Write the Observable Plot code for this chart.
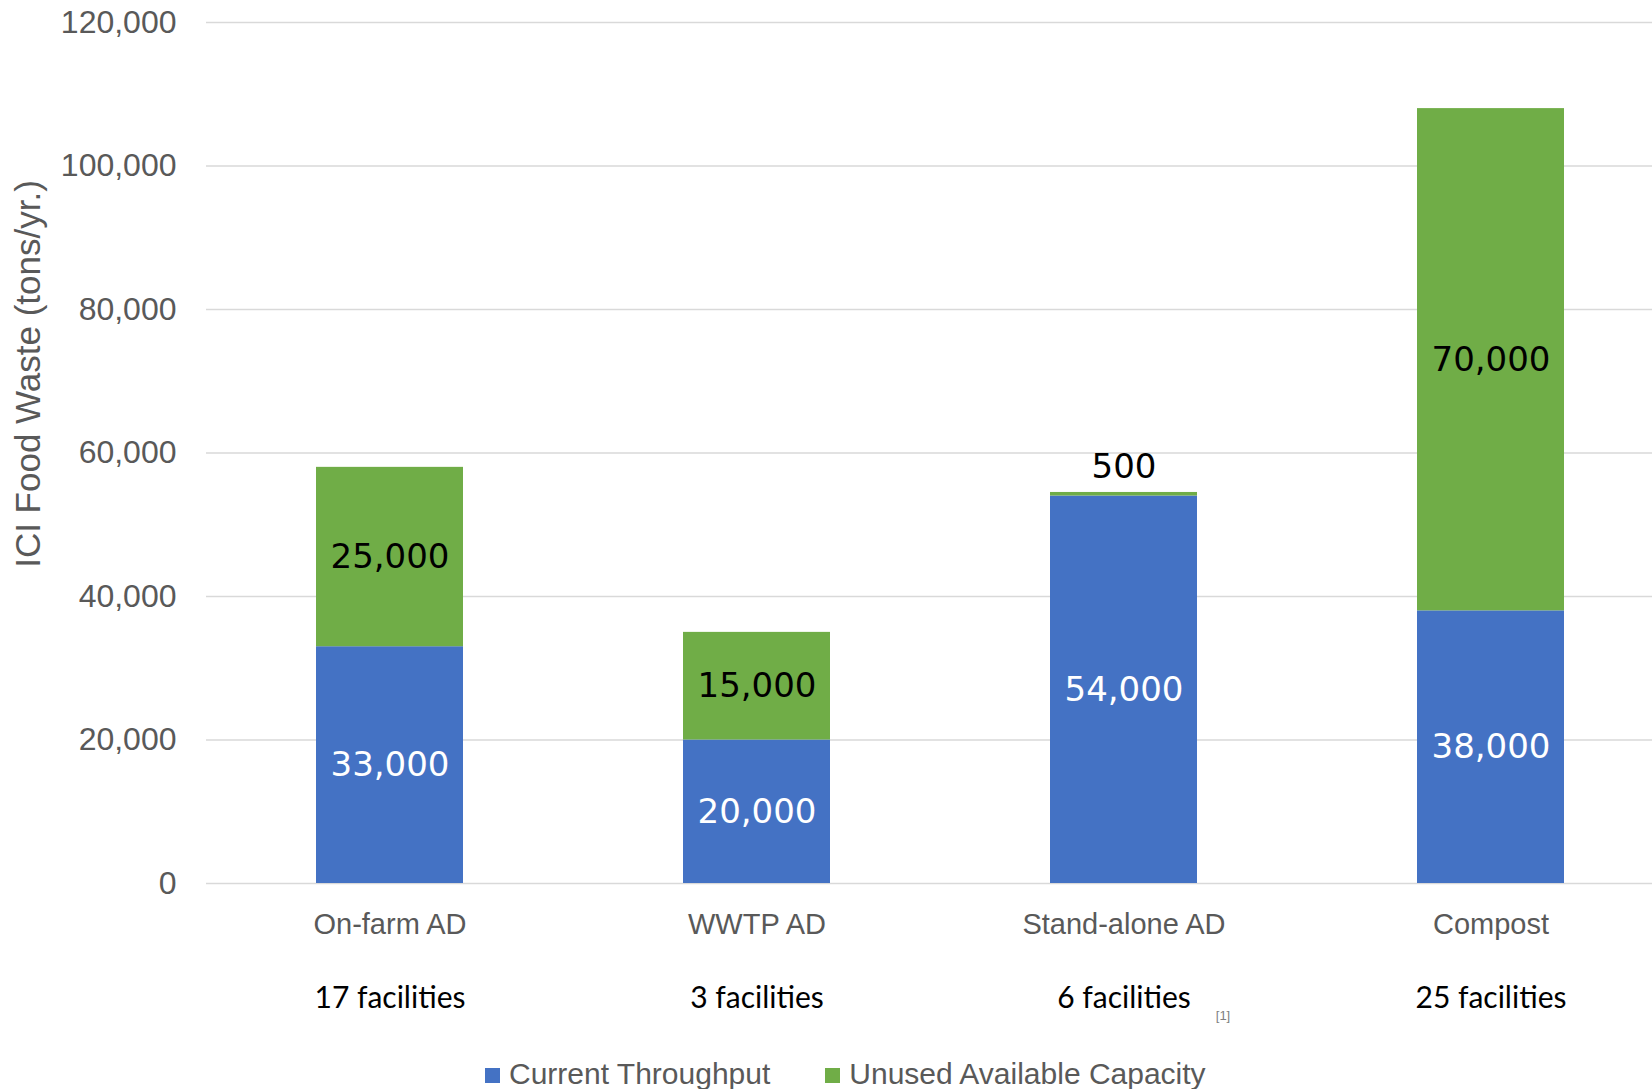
<!DOCTYPE html>
<html><head><meta charset="utf-8">
<script src="https://cdn.jsdelivr.net/npm/d3@7"></script>
<script src="https://cdn.jsdelivr.net/npm/@observablehq/plot@0.6"></script>
<style>
body{margin:0;background:#fff;overflow:hidden;width:1652px;height:1089px;position:relative;font-family:"Liberation Sans",Arial,sans-serif}
#chart svg{display:block;overflow:hidden}
#legend{position:absolute;left:485px;top:1059px;font-size:30px;line-height:30px;color:#595959;white-space:nowrap;font-family:"Liberation Sans",Arial,sans-serif}
.item{display:inline-block}
.sw{display:inline-block;width:15px;height:15px;margin-right:9px;position:relative;top:-1px}
</style></head><body>
<div id="chart"></div>
<div id="legend"></div>
<script>
const categories = ["On-farm AD", "WWTP AD", "Stand-alone AD", "Compost"];
const currentThroughput = [33000, 20000, 54000, 38000];
const unusedCapacity = [25000, 15000, 500, 70000];
const facilities = ["17 facilities", "3 facilities", "6 facilities", "25 facilities"];
const seriesNames = ["Current Throughput", "Unused Available Capacity"];
const seriesColors = ["#4472C4", "#70AD47"];
const yTicks = [0, 20000, 40000, 60000, 80000, 100000, 120000];
const yTitle = "ICI Food Waste (tons/yr.)";
const footnoteCategory = "Stand-alone AD";
const footnoteText = "[1]";

const data = [];
categories.forEach((c, i) => {
  data.push({category: c, series: seriesNames[0], value: currentThroughput[i]});
  data.push({category: c, series: seriesNames[1], value: unusedCapacity[i]});
});
const facData = categories.map((c, i) => ({category: c, text: facilities[i]}));
const fmt = d3.format(",");
const small = d => d.value < 5000;

const chart = Plot.plot({
  width: 1652,
  height: 1052,
  marginTop: 22,
  marginBottom: 169,
  marginLeft: 206,
  marginRight: 0,
  style: {fontFamily: "Liberation Sans, Arial, sans-serif", color: "#595959", background: "#fff"},
  x: {domain: categories, range: [206, 1674], paddingInner: 0.6, paddingOuter: 0.3},
  y: {domain: [0, 120000]},
  color: {domain: seriesNames, range: seriesColors},
  marks: [
    Plot.gridY(yTicks, {stroke: "#d9d9d9", strokeOpacity: 1, strokeWidth: 1.5}),
    Plot.axisY({ticks: yTicks, tickFormat: d3.format(","), tickSize: 0, tickPadding: 30, fontSize: 32, fill: "#595959", label: null}),
    Plot.axisX({tickSize: 0, tickPadding: 30, fontSize: 29, fill: "#595959", label: null}),
    Plot.barY(data, Plot.stackY({x: "category", y: "value", z: "series", fill: "series"})),
    Plot.text(data, Plot.stackY({
      x: "category", y: "value", z: "series",
      text: d => small(d) ? "" : fmt(d.value),
      fill: d => d.series === seriesNames[0] ? "#ffffff" : "#000000",
      fontSize: 34, fontFamily: "DejaVu Sans"
    })),
    Plot.text(data, Plot.stackY2({
      x: "category", y: "value", z: "series",
      text: d => small(d) ? fmt(d.value) : "",
      fill: "#000000", fontSize: 34, fontFamily: "DejaVu Sans", dy: -25
    })),
    Plot.text(facData, {x: "category", text: "text", frameAnchor: "bottom", lineAnchor: "middle", dy: 115, fontSize: 30, fontFamily: "Lato", fill: "#000000"}),
    Plot.text([footnoteText], {x: () => footnoteCategory, text: d => d, frameAnchor: "bottom", lineAnchor: "middle", dx: 99, dy: 132, fontSize: 13, fill: "#7f7f7f"}),
    Plot.text([yTitle], {text: d => d, frameAnchor: "left", textAnchor: "middle", lineAnchor: "middle", rotate: -90, dx: -178, dy: -79, fontSize: 35, fill: "#595959"})
  ]
});
document.getElementById("chart").appendChild(chart);

const legend = document.getElementById("legend");
seriesNames.forEach((s, i) => {
  const item = document.createElement("span");
  item.className = "item";
  if (i > 0) item.style.marginLeft = "55px";
  const sw = document.createElement("span");
  sw.className = "sw";
  sw.style.background = seriesColors[i];
  item.appendChild(sw);
  item.appendChild(document.createTextNode(s));
  legend.appendChild(item);
});
</script>
</body></html>
